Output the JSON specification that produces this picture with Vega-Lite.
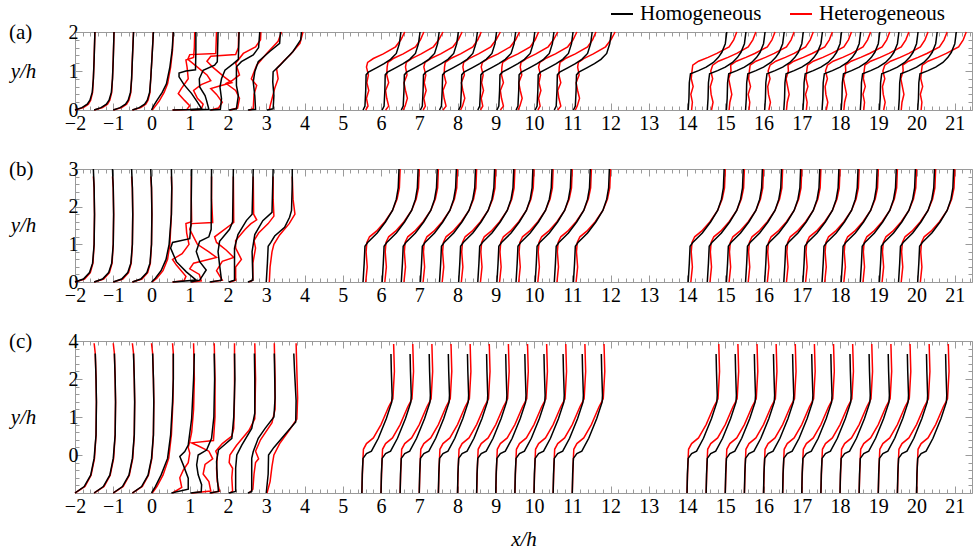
{
"$schema":"https://vega.github.io/schema/vega-lite/v6.json",
"padding":{"left":8,"top":2,"right":5,"bottom":5},
"background":"white",
"bounds":"flush",
"spacing":59,
"config":{
 "font":"Liberation Serif, Times New Roman, DejaVu Serif, serif",
 "view":{"stroke":"#9a9a9a","strokeWidth":1},
 "axis":{"domain":false,"grid":false,"labelFont":"Liberation Serif, Times New Roman, DejaVu Serif, serif","labelFontSize":20,"labelColor":"#000","tickColor":"#9a9a9a","labelOverlap":false,"labelFlush":false,"labelBound":false,"titleFont":"Liberation Serif, Times New Roman, DejaVu Serif, serif","titleFontSize":21,"titleFontStyle":"italic","titleFontWeight":"normal","titleColor":"#000"},
 "legend":{"orient":"none","legendX":535,"legendY":-30,"direction":"horizontal","symbolType":"stroke","symbolStrokeWidth":2,"symbolSize":484,"labelFont":"Liberation Serif, Times New Roman, DejaVu Serif, serif","labelFontSize":21,"labelColor":"#000","labelOffset":6,"columnPadding":24,"padding":0},
 "title":{"font":"Liberation Serif, Times New Roman, DejaVu Serif, serif","fontSize":21,"fontWeight":"normal","color":"#000"}
},
"datasets":{"d":[
{"p":"a","s":"Hom","k":-2,"x":[-2,-1.82,-1.68,-1.61,-1.55,-1.52,-1.5,-1.48],"y":[0,0.06,0.15,0.25,0.45,0.8,1.3,2]},
{"p":"a","s":"Hom","k":-1.5,"x":[-1.5,-1.32,-1.18,-1.11,-1.05,-1.02,-1,-0.98],"y":[0,0.06,0.15,0.25,0.45,0.8,1.3,2]},
{"p":"a","s":"Hom","k":-1,"x":[-1,-0.82,-0.68,-0.61,-0.55,-0.52,-0.5,-0.47],"y":[0,0.06,0.15,0.25,0.45,0.8,1.3,2]},
{"p":"a","s":"Hom","k":-0.5,"x":[-0.5,-0.32,-0.18,-0.11,-0.05,-0.02,0.01,0.05],"y":[0,0.06,0.15,0.25,0.45,0.8,1.3,2]},
{"p":"a","s":"Hom","k":0,"x":[0,0.05,0.13,0.28,0.39,0.48,0.54,0.57],"y":[0,0.1,0.23,0.45,0.67,1.1,1.54,2]},
{"p":"a","s":"Het","k":-2,"x":[-2,-1.78,-1.65,-1.59,-1.54,-1.52,-1.5,-1.48],"y":[0,0.06,0.15,0.25,0.45,0.8,1.3,2]},
{"p":"a","s":"Het","k":-1.5,"x":[-1.5,-1.28,-1.15,-1.09,-1.04,-1.02,-1,-0.98],"y":[0,0.06,0.15,0.25,0.45,0.8,1.3,2]},
{"p":"a","s":"Het","k":-1,"x":[-1,-0.78,-0.65,-0.59,-0.54,-0.52,-0.5,-0.47],"y":[0,0.06,0.15,0.25,0.45,0.8,1.3,2]},
{"p":"a","s":"Het","k":-0.5,"x":[-0.5,-0.28,-0.15,-0.09,-0.04,-0.02,0.01,0.05],"y":[0,0.06,0.15,0.25,0.45,0.8,1.3,2]},
{"p":"a","s":"Het","k":0,"x":[0.02,0.1,0.2,0.33,0.42,0.5,0.55,0.57],"y":[0,0.1,0.23,0.45,0.67,1.1,1.54,2]},
{"p":"a","s":"Hom","k":0.5,"x":[0.55,1.0,1.31,1.2,1.05,0.85,0.72,0.72,0.9,1.15,1.16,1.16],"y":[0,0.01,0.03,0.2,0.42,0.65,0.85,0.95,1.0,1.03,1.5,2]},
{"p":"a","s":"Het","k":0.5,"x":[0.55,0.92,1.0,0.87,0.7,0.78,0.96,0.93,0.9,1.1,1.12,1.13],"y":[0,0.01,0.11,0.24,0.42,0.55,0.8,1.1,1.28,1.35,1.6,2]},
{"p":"a","s":"Hom","k":1,"x":[1.02,1.5,1.44,1.4,1.26,1.25,1.35,1.65,1.72,1.74],"y":[0,0.02,0.24,0.37,0.59,0.8,1.02,1.15,1.24,2]},
{"p":"a","s":"Het","k":1,"x":[1.02,1.3,1.35,1.2,1.1,1.3,1.55,1.45,1.2,0.95,1.0,1.68,1.7],"y":[0,0.02,0.15,0.3,0.5,0.65,0.75,0.9,1.1,1.3,1.42,1.45,2]},
{"p":"a","s":"Hom","k":1.5,"x":[1.52,1.8,1.83,1.79,1.83,1.92,2.14,2.27,2.29],"y":[0,0.02,0.29,0.59,0.8,1.02,1.19,1.3,2]},
{"p":"a","s":"Het","k":1.5,"x":[1.55,1.75,1.85,1.7,1.55,1.8,2.1,1.9,1.6,1.45,1.55,2.2,2.27,2.28],"y":[0,0.05,0.2,0.4,0.55,0.62,0.7,0.85,1.1,1.25,1.38,1.42,1.6,2]},
{"p":"a","s":"Hom","k":2,"x":[2.02,2.22,2.27,2.22,2.22,2.35,2.66,2.8,2.83],"y":[0,0.03,0.37,0.63,1.11,1.24,1.41,1.6,2]},
{"p":"a","s":"Het","k":2,"x":[2.05,2.25,2.3,2.2,1.95,2.1,2.3,2.2,2.4,2.72,2.85,2.86],"y":[0,0.05,0.3,0.5,0.68,0.75,0.9,1.2,1.45,1.62,1.8,2]},
{"p":"a","s":"Hom","k":2.5,"x":[2.52,2.72,2.7,2.66,2.7,2.79,3.09,3.35,3.37],"y":[0,0.02,0.37,0.72,0.98,1.24,1.5,1.71,2]},
{"p":"a","s":"Het","k":2.5,"x":[2.55,2.66,2.68,2.75,2.61,2.75,3.01,3.31,3.4],"y":[0,0.03,0.4,0.63,0.8,1.15,1.45,1.76,2]},
{"p":"a","s":"Hom","k":3,"x":[3.02,3.18,3.2,3.17,3.18,3.36,3.7,3.9,3.92],"y":[0,0.03,0.37,0.72,0.98,1.15,1.5,1.8,2]},
{"p":"a","s":"Het","k":3,"x":[3.08,3.1,3.22,3.31,3.27,3.45,3.62,3.88,3.96],"y":[0,0.1,0.55,0.8,1.06,1.25,1.41,1.71,2]},
{"p":"a","s":"Hom","k":5.5,"x":[5.53,5.58,5.6,5.61,5.67,5.88,6.08,6.25,6.4,6.48,6.52],"y":[0,0.1,0.5,0.9,0.97,1.08,1.19,1.3,1.45,1.7,2]},
{"p":"a","s":"Hom","k":6,"x":[6.03,6.08,6.1,6.11,6.17,6.38,6.58,6.75,6.9,6.98,7.02],"y":[0,0.1,0.5,0.9,0.97,1.08,1.19,1.3,1.45,1.7,2]},
{"p":"a","s":"Hom","k":6.5,"x":[6.53,6.58,6.6,6.61,6.67,6.88,7.08,7.25,7.4,7.48,7.52],"y":[0,0.1,0.5,0.9,0.97,1.08,1.19,1.3,1.45,1.7,2]},
{"p":"a","s":"Hom","k":7,"x":[7.03,7.08,7.1,7.11,7.17,7.38,7.58,7.75,7.9,7.98,8.02],"y":[0,0.1,0.5,0.9,0.97,1.08,1.19,1.3,1.45,1.7,2]},
{"p":"a","s":"Hom","k":7.5,"x":[7.53,7.58,7.6,7.61,7.67,7.88,8.08,8.25,8.4,8.48,8.52],"y":[0,0.1,0.5,0.9,0.97,1.08,1.19,1.3,1.45,1.7,2]},
{"p":"a","s":"Hom","k":8,"x":[8.03,8.08,8.1,8.11,8.17,8.38,8.58,8.75,8.9,8.98,9.02],"y":[0,0.1,0.5,0.9,0.97,1.08,1.19,1.3,1.45,1.7,2]},
{"p":"a","s":"Hom","k":8.5,"x":[8.53,8.58,8.6,8.61,8.67,8.88,9.08,9.25,9.4,9.48,9.52],"y":[0,0.1,0.5,0.9,0.97,1.08,1.19,1.3,1.45,1.7,2]},
{"p":"a","s":"Hom","k":9,"x":[9.03,9.08,9.1,9.11,9.17,9.38,9.58,9.75,9.9,9.98,10.02],"y":[0,0.1,0.5,0.9,0.97,1.08,1.19,1.3,1.45,1.7,2]},
{"p":"a","s":"Hom","k":9.5,"x":[9.53,9.58,9.6,9.61,9.67,9.88,10.08,10.25,10.4,10.48,10.52],"y":[0,0.1,0.5,0.9,0.97,1.08,1.19,1.3,1.45,1.7,2]},
{"p":"a","s":"Hom","k":10,"x":[10.03,10.08,10.1,10.11,10.17,10.38,10.58,10.75,10.9,10.98,11.02],"y":[0,0.1,0.5,0.9,0.97,1.08,1.19,1.3,1.45,1.7,2]},
{"p":"a","s":"Hom","k":10.5,"x":[10.53,10.58,10.6,10.61,10.67,10.88,11.08,11.25,11.4,11.48,11.52],"y":[0,0.1,0.5,0.9,0.97,1.08,1.19,1.3,1.45,1.7,2]},
{"p":"a","s":"Hom","k":11,"x":[11.03,11.08,11.1,11.11,11.17,11.38,11.58,11.75,11.9,11.98,12.02],"y":[0,0.1,0.5,0.9,0.97,1.08,1.19,1.3,1.45,1.7,2]},
{"p":"a","s":"Het","k":5.5,"x":[5.6,5.66,5.62,5.68,5.63,5.67,5.62,5.65,5.8,6.06,6.38,6.52,6.62],"y":[0,0.1,0.3,0.5,0.7,0.9,1.1,1.22,1.32,1.44,1.62,1.8,2]},
{"p":"a","s":"Het","k":6,"x":[6.12,6.2,6.15,6.12,6.2,6.15,6.16,6.18,6.32,6.58,6.9,7.03,7.12],"y":[0,0.1,0.3,0.5,0.7,0.9,1.1,1.22,1.32,1.44,1.62,1.8,2]},
{"p":"a","s":"Het","k":6.5,"x":[6.58,6.63,6.69,6.64,6.6,6.68,6.64,6.66,6.8,7.05,7.37,7.51,7.62],"y":[0,0.1,0.3,0.5,0.7,0.9,1.1,1.22,1.32,1.44,1.62,1.8,2]},
{"p":"a","s":"Het","k":7,"x":[7.1,7.16,7.12,7.18,7.13,7.17,7.12,7.15,7.3,7.56,7.88,8.02,8.12],"y":[0,0.1,0.3,0.5,0.7,0.9,1.1,1.22,1.32,1.44,1.62,1.8,2]},
{"p":"a","s":"Het","k":7.5,"x":[7.62,7.7,7.65,7.62,7.7,7.65,7.66,7.68,7.82,8.08,8.4,8.53,8.62],"y":[0,0.1,0.3,0.5,0.7,0.9,1.1,1.22,1.32,1.44,1.62,1.8,2]},
{"p":"a","s":"Het","k":8,"x":[8.08,8.13,8.19,8.14,8.1,8.18,8.14,8.16,8.3,8.55,8.87,9.01,9.12],"y":[0,0.1,0.3,0.5,0.7,0.9,1.1,1.22,1.32,1.44,1.62,1.8,2]},
{"p":"a","s":"Het","k":8.5,"x":[8.6,8.66,8.62,8.68,8.63,8.67,8.62,8.65,8.8,9.06,9.38,9.52,9.62],"y":[0,0.1,0.3,0.5,0.7,0.9,1.1,1.22,1.32,1.44,1.62,1.8,2]},
{"p":"a","s":"Het","k":9,"x":[9.12,9.2,9.15,9.12,9.2,9.15,9.16,9.18,9.32,9.58,9.9,10.03,10.12],"y":[0,0.1,0.3,0.5,0.7,0.9,1.1,1.22,1.32,1.44,1.62,1.8,2]},
{"p":"a","s":"Het","k":9.5,"x":[9.58,9.63,9.69,9.64,9.6,9.68,9.64,9.66,9.8,10.05,10.37,10.51,10.62],"y":[0,0.1,0.3,0.5,0.7,0.9,1.1,1.22,1.32,1.44,1.62,1.8,2]},
{"p":"a","s":"Het","k":10,"x":[10.1,10.16,10.12,10.18,10.13,10.17,10.12,10.15,10.3,10.56,10.88,11.02,11.12],"y":[0,0.1,0.3,0.5,0.7,0.9,1.1,1.22,1.32,1.44,1.62,1.8,2]},
{"p":"a","s":"Het","k":10.5,"x":[10.62,10.7,10.65,10.62,10.7,10.65,10.66,10.68,10.82,11.08,11.4,11.53,11.62],"y":[0,0.1,0.3,0.5,0.7,0.9,1.1,1.22,1.32,1.44,1.62,1.8,2]},
{"p":"a","s":"Het","k":11,"x":[11.08,11.13,11.19,11.14,11.1,11.18,11.14,11.16,11.3,11.55,11.87,12.01,12.12],"y":[0,0.1,0.3,0.5,0.7,0.9,1.1,1.22,1.32,1.44,1.62,1.8,2]},
{"p":"a","s":"Hom","k":14,"x":[14.03,14.05,14.06,14.09,14.3,14.5,14.69,14.82,14.91,15,15.04],"y":[0,0.3,0.7,0.93,1.01,1.1,1.22,1.35,1.48,1.7,2]},
{"p":"a","s":"Hom","k":14.5,"x":[14.53,14.55,14.56,14.59,14.8,15,15.19,15.32,15.41,15.5,15.54],"y":[0,0.3,0.7,0.93,1.01,1.1,1.22,1.35,1.48,1.7,2]},
{"p":"a","s":"Hom","k":15,"x":[15.03,15.05,15.06,15.09,15.3,15.5,15.69,15.82,15.91,16,16.04],"y":[0,0.3,0.7,0.93,1.01,1.1,1.22,1.35,1.48,1.7,2]},
{"p":"a","s":"Hom","k":15.5,"x":[15.53,15.55,15.56,15.59,15.8,16,16.19,16.32,16.41,16.5,16.54],"y":[0,0.3,0.7,0.93,1.01,1.1,1.22,1.35,1.48,1.7,2]},
{"p":"a","s":"Hom","k":16,"x":[16.03,16.05,16.06,16.09,16.3,16.5,16.69,16.82,16.91,17,17.04],"y":[0,0.3,0.7,0.93,1.01,1.1,1.22,1.35,1.48,1.7,2]},
{"p":"a","s":"Hom","k":16.5,"x":[16.53,16.55,16.56,16.59,16.8,17,17.19,17.32,17.41,17.5,17.54],"y":[0,0.3,0.7,0.93,1.01,1.1,1.22,1.35,1.48,1.7,2]},
{"p":"a","s":"Hom","k":17,"x":[17.03,17.05,17.06,17.09,17.3,17.5,17.69,17.82,17.91,18,18.04],"y":[0,0.3,0.7,0.93,1.01,1.1,1.22,1.35,1.48,1.7,2]},
{"p":"a","s":"Hom","k":17.5,"x":[17.53,17.55,17.56,17.59,17.8,18,18.19,18.32,18.41,18.5,18.54],"y":[0,0.3,0.7,0.93,1.01,1.1,1.22,1.35,1.48,1.7,2]},
{"p":"a","s":"Hom","k":18,"x":[18.03,18.05,18.06,18.09,18.3,18.5,18.69,18.82,18.91,19,19.04],"y":[0,0.3,0.7,0.93,1.01,1.1,1.22,1.35,1.48,1.7,2]},
{"p":"a","s":"Hom","k":18.5,"x":[18.53,18.55,18.56,18.59,18.8,19,19.19,19.32,19.41,19.5,19.54],"y":[0,0.3,0.7,0.93,1.01,1.1,1.22,1.35,1.48,1.7,2]},
{"p":"a","s":"Hom","k":19,"x":[19.03,19.05,19.06,19.09,19.3,19.5,19.69,19.82,19.91,20,20.04],"y":[0,0.3,0.7,0.93,1.01,1.1,1.22,1.35,1.48,1.7,2]},
{"p":"a","s":"Hom","k":19.5,"x":[19.53,19.55,19.56,19.59,19.8,20,20.19,20.32,20.41,20.5,20.54],"y":[0,0.3,0.7,0.93,1.01,1.1,1.22,1.35,1.48,1.7,2]},
{"p":"a","s":"Hom","k":20,"x":[20.03,20.05,20.06,20.09,20.3,20.5,20.69,20.82,20.91,21,21.04],"y":[0,0.3,0.7,0.93,1.01,1.1,1.22,1.35,1.48,1.7,2]},
{"p":"a","s":"Het","k":14,"x":[14.12,14.14,14.1,14.16,14.11,14.13,14.15,14.3,14.55,14.78,15.1,15.22,15.3],"y":[0,0.2,0.4,0.6,0.8,1,1.15,1.25,1.35,1.45,1.62,1.8,2]},
{"p":"a","s":"Het","k":14.5,"x":[14.64,14.68,14.63,14.61,14.67,14.62,14.67,14.82,15.07,15.3,15.6,15.72,15.8],"y":[0,0.2,0.4,0.6,0.8,1,1.15,1.25,1.35,1.45,1.62,1.8,2]},
{"p":"a","s":"Het","k":15,"x":[15.1,15.12,15.17,15.13,15.09,15.15,15.14,15.29,15.54,15.77,16.1,16.22,16.3],"y":[0,0.2,0.4,0.6,0.8,1,1.15,1.25,1.35,1.45,1.62,1.8,2]},
{"p":"a","s":"Het","k":15.5,"x":[15.62,15.64,15.6,15.66,15.61,15.63,15.65,15.8,16.05,16.28,16.6,16.72,16.8],"y":[0,0.2,0.4,0.6,0.8,1,1.15,1.25,1.35,1.45,1.62,1.8,2]},
{"p":"a","s":"Het","k":16,"x":[16.14,16.18,16.13,16.11,16.17,16.12,16.17,16.32,16.57,16.8,17.1,17.22,17.3],"y":[0,0.2,0.4,0.6,0.8,1,1.15,1.25,1.35,1.45,1.62,1.8,2]},
{"p":"a","s":"Het","k":16.5,"x":[16.6,16.62,16.67,16.63,16.59,16.65,16.64,16.79,17.04,17.27,17.6,17.72,17.8],"y":[0,0.2,0.4,0.6,0.8,1,1.15,1.25,1.35,1.45,1.62,1.8,2]},
{"p":"a","s":"Het","k":17,"x":[17.12,17.14,17.1,17.16,17.11,17.13,17.15,17.3,17.55,17.78,18.1,18.22,18.3],"y":[0,0.2,0.4,0.6,0.8,1,1.15,1.25,1.35,1.45,1.62,1.8,2]},
{"p":"a","s":"Het","k":17.5,"x":[17.64,17.68,17.63,17.61,17.67,17.62,17.67,17.82,18.07,18.3,18.6,18.72,18.8],"y":[0,0.2,0.4,0.6,0.8,1,1.15,1.25,1.35,1.45,1.62,1.8,2]},
{"p":"a","s":"Het","k":18,"x":[18.1,18.12,18.17,18.13,18.09,18.15,18.14,18.29,18.54,18.77,19.1,19.22,19.3],"y":[0,0.2,0.4,0.6,0.8,1,1.15,1.25,1.35,1.45,1.62,1.8,2]},
{"p":"a","s":"Het","k":18.5,"x":[18.62,18.64,18.6,18.66,18.61,18.63,18.65,18.8,19.05,19.28,19.6,19.72,19.8],"y":[0,0.2,0.4,0.6,0.8,1,1.15,1.25,1.35,1.45,1.62,1.8,2]},
{"p":"a","s":"Het","k":19,"x":[19.14,19.18,19.13,19.11,19.17,19.12,19.17,19.32,19.57,19.8,20.1,20.22,20.3],"y":[0,0.2,0.4,0.6,0.8,1,1.15,1.25,1.35,1.45,1.62,1.8,2]},
{"p":"a","s":"Het","k":19.5,"x":[19.6,19.62,19.67,19.63,19.59,19.65,19.64,19.79,20.04,20.27,20.6,20.72,20.8],"y":[0,0.2,0.4,0.6,0.8,1,1.15,1.25,1.35,1.45,1.62,1.8,2]},
{"p":"a","s":"Het","k":20,"x":[20.12,20.14,20.1,20.16,20.11,20.13,20.15,20.3,20.55,20.78,21.1,21.22,21.3],"y":[0,0.2,0.4,0.6,0.8,1,1.15,1.25,1.35,1.45,1.62,1.8,2]},

{"p":"b","s":"Hom","k":-2,"x":[-2,-1.78,-1.62,-1.54,-1.5,-1.49,-1.5,-1.52],"y":[0,0.08,0.25,0.5,1,1.8,2.5,3]},
{"p":"b","s":"Hom","k":-1.5,"x":[-1.5,-1.28,-1.12,-1.04,-1,-0.99,-1,-1.02],"y":[0,0.08,0.25,0.5,1,1.8,2.5,3]},
{"p":"b","s":"Hom","k":-1,"x":[-1,-0.78,-0.62,-0.54,-0.5,-0.49,-0.5,-0.52],"y":[0,0.08,0.25,0.5,1,1.8,2.5,3]},
{"p":"b","s":"Hom","k":-0.5,"x":[-0.5,-0.28,-0.12,-0.04,0,0.01,0,-0.02],"y":[0,0.08,0.25,0.5,1,1.8,2.5,3]},
{"p":"b","s":"Hom","k":0,"x":[0,0.1,0.25,0.38,0.46,0.52,0.53,0.52],"y":[0,0.1,0.3,0.6,1,1.8,2.5,3]},
{"p":"b","s":"Het","k":-2,"x":[-2,-1.75,-1.6,-1.53,-1.5,-1.49,-1.5,-1.52],"y":[0,0.08,0.25,0.5,1,1.8,2.5,2.8]},
{"p":"b","s":"Het","k":-1.5,"x":[-1.5,-1.25,-1.1,-1.03,-1,-0.99,-1,-1.02],"y":[0,0.08,0.25,0.5,1,1.8,2.5,2.8]},
{"p":"b","s":"Het","k":-1,"x":[-1,-0.75,-0.6,-0.53,-0.5,-0.49,-0.5,-0.52],"y":[0,0.08,0.25,0.5,1,1.8,2.5,2.8]},
{"p":"b","s":"Het","k":-0.5,"x":[-0.5,-0.25,-0.1,-0.03,0,0.01,0,-0.02],"y":[0,0.08,0.25,0.5,1,1.8,2.5,2.8]},
{"p":"b","s":"Het","k":0,"x":[0.02,0.14,0.3,0.42,0.48,0.52,0.53,0.52],"y":[0,0.1,0.3,0.6,1,1.8,2.5,2.8]},
{"p":"b","s":"Hom","k":0.5,"x":[0.55,1.17,0.91,0.65,0.5,0.55,1.0,1.03,1.05],"y":[0,0.05,0.27,0.54,0.9,1.05,1.15,1.5,3]},
{"p":"b","s":"Het","k":0.5,"x":[0.55,0.85,0.9,0.65,0.55,0.8,0.98,0.92,0.9,1.05,1.04,1.04],"y":[0,0.03,0.15,0.45,0.6,0.75,1.0,1.3,1.55,1.6,2.2,2.8]},
{"p":"b","s":"Hom","k":1,"x":[1.02,1.26,1.43,1.26,1.17,1.26,1.5,1.56,1.57],"y":[0,0.05,0.32,0.54,0.81,1.08,1.2,1.4,3]},
{"p":"b","s":"Het","k":1,"x":[1.05,1.3,1.25,1.0,1.1,1.7,1.5,1.2,1.1,1.0,1.05,1.6,1.57,1.57],"y":[0,0.03,0.2,0.35,0.5,0.65,0.8,1.0,1.2,1.4,1.55,1.58,2.2,2.8]},
{"p":"b","s":"Hom","k":1.5,"x":[1.52,1.83,1.78,1.74,1.78,2.04,2.12,2.14],"y":[0,0.05,0.45,0.81,1.08,1.4,1.6,3]},
{"p":"b","s":"Het","k":1.5,"x":[1.55,1.85,1.7,1.85,2.15,1.95,1.7,1.65,1.85,2.15,2.14],"y":[0,0.05,0.3,0.55,0.65,0.85,1.05,1.2,1.35,1.58,2.8]},
{"p":"b","s":"Hom","k":2,"x":[2.02,2.17,2.17,2.17,2.26,2.48,2.63,2.66],"y":[0,0.05,0.5,0.9,1.26,1.63,1.8,3]},
{"p":"b","s":"Het","k":2,"x":[2.05,2.2,2.2,2.35,2.2,2.2,2.45,2.6,2.75,2.67,2.66],"y":[0,0.05,0.4,0.6,0.9,1.1,1.4,1.55,1.65,1.8,2.8]},
{"p":"b","s":"Hom","k":2.5,"x":[2.52,2.65,2.63,2.7,2.91,3.15,3.18],"y":[0,0.05,0.81,1.26,1.63,1.85,3]},
{"p":"b","s":"Het","k":2.5,"x":[2.55,2.65,2.65,2.72,2.68,2.8,3.05,3.2,3.18,3.18],"y":[0,0.05,0.5,0.9,1.1,1.3,1.55,1.75,2.2,2.8]},
{"p":"b","s":"Hom","k":3,"x":[3,3.03,3.05,3.12,3.22,3.48,3.61,3.66,3.68,3.68],"y":[0,0.5,0.95,1.05,1.22,1.45,1.72,1.9,2.6,3]},
{"p":"b","s":"Het","k":3,"x":[3.08,3.1,3.15,3.2,3.35,3.6,3.75,3.7,3.68],"y":[0,0.4,0.8,1.0,1.25,1.55,1.8,2.2,2.8]},
{"p":"b","s":"Hom","k":5.5,"x":[5.53,5.56,5.58,5.65,5.9,6.12,6.3,6.4,6.45,6.47],"y":[0,0.5,0.95,1.05,1.3,1.6,1.9,2.2,2.5,3]},
{"p":"b","s":"Hom","k":6,"x":[6.03,6.06,6.08,6.15,6.4,6.62,6.8,6.9,6.95,6.97],"y":[0,0.5,0.95,1.05,1.3,1.6,1.9,2.2,2.5,3]},
{"p":"b","s":"Hom","k":6.5,"x":[6.53,6.56,6.58,6.65,6.9,7.12,7.3,7.4,7.45,7.47],"y":[0,0.5,0.95,1.05,1.3,1.6,1.9,2.2,2.5,3]},
{"p":"b","s":"Hom","k":7,"x":[7.03,7.06,7.08,7.15,7.4,7.62,7.8,7.9,7.95,7.97],"y":[0,0.5,0.95,1.05,1.3,1.6,1.9,2.2,2.5,3]},
{"p":"b","s":"Hom","k":7.5,"x":[7.53,7.56,7.58,7.65,7.9,8.12,8.3,8.4,8.45,8.47],"y":[0,0.5,0.95,1.05,1.3,1.6,1.9,2.2,2.5,3]},
{"p":"b","s":"Hom","k":8,"x":[8.03,8.06,8.08,8.15,8.4,8.62,8.8,8.9,8.95,8.97],"y":[0,0.5,0.95,1.05,1.3,1.6,1.9,2.2,2.5,3]},
{"p":"b","s":"Hom","k":8.5,"x":[8.53,8.56,8.58,8.65,8.9,9.12,9.3,9.4,9.45,9.47],"y":[0,0.5,0.95,1.05,1.3,1.6,1.9,2.2,2.5,3]},
{"p":"b","s":"Hom","k":9,"x":[9.03,9.06,9.08,9.15,9.4,9.62,9.8,9.9,9.95,9.97],"y":[0,0.5,0.95,1.05,1.3,1.6,1.9,2.2,2.5,3]},
{"p":"b","s":"Hom","k":9.5,"x":[9.53,9.56,9.58,9.65,9.9,10.12,10.3,10.4,10.45,10.47],"y":[0,0.5,0.95,1.05,1.3,1.6,1.9,2.2,2.5,3]},
{"p":"b","s":"Hom","k":10,"x":[10.03,10.06,10.08,10.15,10.4,10.62,10.8,10.9,10.95,10.97],"y":[0,0.5,0.95,1.05,1.3,1.6,1.9,2.2,2.5,3]},
{"p":"b","s":"Hom","k":10.5,"x":[10.53,10.56,10.58,10.65,10.9,11.12,11.3,11.4,11.45,11.47],"y":[0,0.5,0.95,1.05,1.3,1.6,1.9,2.2,2.5,3]},
{"p":"b","s":"Hom","k":11,"x":[11.03,11.06,11.08,11.15,11.4,11.62,11.8,11.9,11.95,11.97],"y":[0,0.5,0.95,1.05,1.3,1.6,1.9,2.2,2.5,3]},
{"p":"b","s":"Het","k":5.5,"x":[5.6,5.64,5.61,5.63,5.7,5.88,6.1,6.3,6.42,6.48,6.5],"y":[0,0.4,0.8,1.05,1.2,1.35,1.6,1.9,2.2,2.5,3]},
{"p":"b","s":"Het","k":6,"x":[6.1,6.14,6.11,6.13,6.2,6.38,6.6,6.8,6.92,6.98,7],"y":[0,0.4,0.8,1.05,1.2,1.35,1.6,1.9,2.2,2.5,3]},
{"p":"b","s":"Het","k":6.5,"x":[6.6,6.64,6.61,6.63,6.7,6.88,7.1,7.3,7.42,7.48,7.5],"y":[0,0.4,0.8,1.05,1.2,1.35,1.6,1.9,2.2,2.5,3]},
{"p":"b","s":"Het","k":7,"x":[7.1,7.14,7.11,7.13,7.2,7.38,7.6,7.8,7.92,7.98,8],"y":[0,0.4,0.8,1.05,1.2,1.35,1.6,1.9,2.2,2.5,3]},
{"p":"b","s":"Het","k":7.5,"x":[7.6,7.64,7.61,7.63,7.7,7.88,8.1,8.3,8.42,8.48,8.5],"y":[0,0.4,0.8,1.05,1.2,1.35,1.6,1.9,2.2,2.5,3]},
{"p":"b","s":"Het","k":8,"x":[8.1,8.14,8.11,8.13,8.2,8.38,8.6,8.8,8.92,8.98,9],"y":[0,0.4,0.8,1.05,1.2,1.35,1.6,1.9,2.2,2.5,3]},
{"p":"b","s":"Het","k":8.5,"x":[8.6,8.64,8.61,8.63,8.7,8.88,9.1,9.3,9.42,9.48,9.5],"y":[0,0.4,0.8,1.05,1.2,1.35,1.6,1.9,2.2,2.5,3]},
{"p":"b","s":"Het","k":9,"x":[9.1,9.14,9.11,9.13,9.2,9.38,9.6,9.8,9.92,9.98,10],"y":[0,0.4,0.8,1.05,1.2,1.35,1.6,1.9,2.2,2.5,3]},
{"p":"b","s":"Het","k":9.5,"x":[9.6,9.64,9.61,9.63,9.7,9.88,10.1,10.3,10.42,10.48,10.5],"y":[0,0.4,0.8,1.05,1.2,1.35,1.6,1.9,2.2,2.5,3]},
{"p":"b","s":"Het","k":10,"x":[10.1,10.14,10.11,10.13,10.2,10.38,10.6,10.8,10.92,10.98,11],"y":[0,0.4,0.8,1.05,1.2,1.35,1.6,1.9,2.2,2.5,3]},
{"p":"b","s":"Het","k":10.5,"x":[10.6,10.64,10.61,10.63,10.7,10.88,11.1,11.3,11.42,11.48,11.5],"y":[0,0.4,0.8,1.05,1.2,1.35,1.6,1.9,2.2,2.5,3]},
{"p":"b","s":"Het","k":11,"x":[11.1,11.14,11.11,11.13,11.2,11.38,11.6,11.8,11.92,11.98,12],"y":[0,0.4,0.8,1.05,1.2,1.35,1.6,1.9,2.2,2.5,3]},
{"p":"b","s":"Hom","k":14,"x":[14.03,14.06,14.08,14.15,14.4,14.62,14.8,14.9,14.95,14.97],"y":[0,0.5,0.95,1.05,1.3,1.6,1.9,2.2,2.5,3]},
{"p":"b","s":"Hom","k":14.5,"x":[14.53,14.56,14.58,14.65,14.9,15.12,15.3,15.4,15.45,15.47],"y":[0,0.5,0.95,1.05,1.3,1.6,1.9,2.2,2.5,3]},
{"p":"b","s":"Hom","k":15,"x":[15.03,15.06,15.08,15.15,15.4,15.62,15.8,15.9,15.95,15.97],"y":[0,0.5,0.95,1.05,1.3,1.6,1.9,2.2,2.5,3]},
{"p":"b","s":"Hom","k":15.5,"x":[15.53,15.56,15.58,15.65,15.9,16.12,16.3,16.4,16.45,16.47],"y":[0,0.5,0.95,1.05,1.3,1.6,1.9,2.2,2.5,3]},
{"p":"b","s":"Hom","k":16,"x":[16.03,16.06,16.08,16.15,16.4,16.62,16.8,16.9,16.95,16.97],"y":[0,0.5,0.95,1.05,1.3,1.6,1.9,2.2,2.5,3]},
{"p":"b","s":"Hom","k":16.5,"x":[16.53,16.56,16.58,16.65,16.9,17.12,17.3,17.4,17.45,17.47],"y":[0,0.5,0.95,1.05,1.3,1.6,1.9,2.2,2.5,3]},
{"p":"b","s":"Hom","k":17,"x":[17.03,17.06,17.08,17.15,17.4,17.62,17.8,17.9,17.95,17.97],"y":[0,0.5,0.95,1.05,1.3,1.6,1.9,2.2,2.5,3]},
{"p":"b","s":"Hom","k":17.5,"x":[17.53,17.56,17.58,17.65,17.9,18.12,18.3,18.4,18.45,18.47],"y":[0,0.5,0.95,1.05,1.3,1.6,1.9,2.2,2.5,3]},
{"p":"b","s":"Hom","k":18,"x":[18.03,18.06,18.08,18.15,18.4,18.62,18.8,18.9,18.95,18.97],"y":[0,0.5,0.95,1.05,1.3,1.6,1.9,2.2,2.5,3]},
{"p":"b","s":"Hom","k":18.5,"x":[18.53,18.56,18.58,18.65,18.9,19.12,19.3,19.4,19.45,19.47],"y":[0,0.5,0.95,1.05,1.3,1.6,1.9,2.2,2.5,3]},
{"p":"b","s":"Hom","k":19,"x":[19.03,19.06,19.08,19.15,19.4,19.62,19.8,19.9,19.95,19.97],"y":[0,0.5,0.95,1.05,1.3,1.6,1.9,2.2,2.5,3]},
{"p":"b","s":"Hom","k":19.5,"x":[19.53,19.56,19.58,19.65,19.9,20.12,20.3,20.4,20.45,20.47],"y":[0,0.5,0.95,1.05,1.3,1.6,1.9,2.2,2.5,3]},
{"p":"b","s":"Hom","k":20,"x":[20.03,20.06,20.08,20.15,20.4,20.62,20.8,20.9,20.95,20.97],"y":[0,0.5,0.95,1.05,1.3,1.6,1.9,2.2,2.5,3]},
{"p":"b","s":"Het","k":14,"x":[14.1,14.14,14.11,14.13,14.2,14.38,14.6,14.8,14.92,14.98,15],"y":[0,0.4,0.8,1.05,1.2,1.35,1.6,1.9,2.2,2.5,3]},
{"p":"b","s":"Het","k":14.5,"x":[14.6,14.64,14.61,14.63,14.7,14.88,15.1,15.3,15.42,15.48,15.5],"y":[0,0.4,0.8,1.05,1.2,1.35,1.6,1.9,2.2,2.5,3]},
{"p":"b","s":"Het","k":15,"x":[15.1,15.14,15.11,15.13,15.2,15.38,15.6,15.8,15.92,15.98,16],"y":[0,0.4,0.8,1.05,1.2,1.35,1.6,1.9,2.2,2.5,3]},
{"p":"b","s":"Het","k":15.5,"x":[15.6,15.64,15.61,15.63,15.7,15.88,16.1,16.3,16.42,16.48,16.5],"y":[0,0.4,0.8,1.05,1.2,1.35,1.6,1.9,2.2,2.5,3]},
{"p":"b","s":"Het","k":16,"x":[16.1,16.14,16.11,16.13,16.2,16.38,16.6,16.8,16.92,16.98,17],"y":[0,0.4,0.8,1.05,1.2,1.35,1.6,1.9,2.2,2.5,3]},
{"p":"b","s":"Het","k":16.5,"x":[16.6,16.64,16.61,16.63,16.7,16.88,17.1,17.3,17.42,17.48,17.5],"y":[0,0.4,0.8,1.05,1.2,1.35,1.6,1.9,2.2,2.5,3]},
{"p":"b","s":"Het","k":17,"x":[17.1,17.14,17.11,17.13,17.2,17.38,17.6,17.8,17.92,17.98,18],"y":[0,0.4,0.8,1.05,1.2,1.35,1.6,1.9,2.2,2.5,3]},
{"p":"b","s":"Het","k":17.5,"x":[17.6,17.64,17.61,17.63,17.7,17.88,18.1,18.3,18.42,18.48,18.5],"y":[0,0.4,0.8,1.05,1.2,1.35,1.6,1.9,2.2,2.5,3]},
{"p":"b","s":"Het","k":18,"x":[18.1,18.14,18.11,18.13,18.2,18.38,18.6,18.8,18.92,18.98,19],"y":[0,0.4,0.8,1.05,1.2,1.35,1.6,1.9,2.2,2.5,3]},
{"p":"b","s":"Het","k":18.5,"x":[18.6,18.64,18.61,18.63,18.7,18.88,19.1,19.3,19.42,19.48,19.5],"y":[0,0.4,0.8,1.05,1.2,1.35,1.6,1.9,2.2,2.5,3]},
{"p":"b","s":"Het","k":19,"x":[19.1,19.14,19.11,19.13,19.2,19.38,19.6,19.8,19.92,19.98,20],"y":[0,0.4,0.8,1.05,1.2,1.35,1.6,1.9,2.2,2.5,3]},
{"p":"b","s":"Het","k":19.5,"x":[19.6,19.64,19.61,19.63,19.7,19.88,20.1,20.3,20.42,20.48,20.5],"y":[0,0.4,0.8,1.05,1.2,1.35,1.6,1.9,2.2,2.5,3]},
{"p":"b","s":"Het","k":20,"x":[20.1,20.14,20.11,20.13,20.2,20.38,20.6,20.8,20.92,20.98,21],"y":[0,0.4,0.8,1.05,1.2,1.35,1.6,1.9,2.2,2.5,3]},

{"p":"c","s":"Hom","k":-2,"x":[-2,-1.76,-1.59,-1.5,-1.45,-1.44,-1.45,-1.47],"y":[-1,-0.83,-0.53,-0.09,0.53,1.4,2,2.67]},
{"p":"c","s":"Hom","k":-1.5,"x":[-1.5,-1.26,-1.09,-1,-0.95,-0.94,-0.95,-0.97],"y":[-1,-0.83,-0.53,-0.09,0.53,1.4,2,2.67]},
{"p":"c","s":"Hom","k":-1,"x":[-1,-0.76,-0.59,-0.5,-0.45,-0.44,-0.45,-0.47],"y":[-1,-0.83,-0.53,-0.09,0.53,1.4,2,2.67]},
{"p":"c","s":"Hom","k":-0.5,"x":[-0.5,-0.26,-0.09,0,0.05,0.06,0.05,0.03],"y":[-1,-0.83,-0.53,-0.09,0.53,1.4,2,2.67]},
{"p":"c","s":"Hom","k":0,"x":[0,0.1,0.25,0.42,0.5,0.55,0.57,0.57],"y":[-1,-0.83,-0.53,-0.09,0.53,1.4,2,2.67]},
{"p":"c","s":"Het","k":-2,"x":[-2,-1.74,-1.58,-1.49,-1.45,-1.44,-1.45,-1.47,-1.5],"y":[-1,-0.83,-0.53,-0.09,0.53,1.4,2,2.67,2.94]},
{"p":"c","s":"Het","k":-1.5,"x":[-1.5,-1.24,-1.08,-0.99,-0.95,-0.94,-0.95,-0.97,-1],"y":[-1,-0.83,-0.53,-0.09,0.53,1.4,2,2.67,2.94]},
{"p":"c","s":"Het","k":-1,"x":[-1,-0.74,-0.58,-0.49,-0.45,-0.44,-0.45,-0.47,-0.5],"y":[-1,-0.83,-0.53,-0.09,0.53,1.4,2,2.67,2.94]},
{"p":"c","s":"Het","k":-0.5,"x":[-0.5,-0.24,-0.08,0.01,0.05,0.06,0.05,0.03,0],"y":[-1,-0.83,-0.53,-0.09,0.53,1.4,2,2.67,2.94]},
{"p":"c","s":"Het","k":0,"x":[0.02,0.14,0.3,0.45,0.52,0.56,0.57,0.57,0.55],"y":[-1,-0.83,-0.53,-0.09,0.53,1.4,2,2.67,2.94]},
{"p":"c","s":"Hom","k":0.5,"x":[0.52,0.96,0.96,0.83,0.74,0.87,0.96,1.05,1.1,1.12],"y":[-1,-0.9,-0.61,-0.26,-0.04,0.09,0.26,0.96,2,2.67]},
{"p":"c","s":"Het","k":0.5,"x":[0.55,0.79,0.74,0.83,0.96,1.0,0.96,1.0,1.05,1.1,1.12,1.1],"y":[-1,-0.85,-0.6,-0.4,-0.2,0.05,0.2,0.35,0.6,1.2,2,2.94]},
{"p":"c","s":"Hom","k":1,"x":[1.02,1.3,1.31,1.22,1.18,1.22,1.44,1.57,1.63,1.65,1.64],"y":[-1,-0.97,-0.78,-0.52,-0.26,0,0.13,0.44,1,2,2.67]},
{"p":"c","s":"Het","k":1,"x":[1.05,1.55,1.5,1.35,1.4,1.6,1.5,1.2,1.05,1.62,1.66,1.66,1.64],"y":[-1,-0.95,-0.7,-0.5,-0.25,-0.1,0.1,0.25,0.32,0.38,1,2,2.94]},
{"p":"c","s":"Hom","k":1.5,"x":[1.52,1.75,1.72,1.7,1.75,2.1,2.15,2.18,2.17],"y":[-1,-0.96,-0.6,-0.17,0.13,0.44,1,2,2.67]},
{"p":"c","s":"Het","k":1.5,"x":[1.55,1.78,1.72,1.7,1.72,1.68,1.85,2.1,2.15,2.17,2.17],"y":[-1,-0.95,-0.7,-0.35,0,0.1,0.3,0.5,0.7,1.5,2.94]},
{"p":"c","s":"Hom","k":2,"x":[2.02,2.2,2.2,2.23,2.36,2.62,2.7,2.7,2.69],"y":[-1,-0.96,-0.35,0,0.26,0.7,1.1,2,2.67]},
{"p":"c","s":"Het","k":2,"x":[2.05,2.12,2.1,2.12,2.03,2.05,2.22,2.55,2.7,2.72,2.7],"y":[-1,-0.95,-0.6,-0.35,-0.2,0,0.25,0.65,0.95,2,2.94]},
{"p":"c","s":"Hom","k":2.5,"x":[2.52,2.62,2.62,2.66,2.79,2.97,3.2,3.23,3.21],"y":[-1,-0.96,-0.09,0.09,0.44,0.7,1,1.5,2.67]},
{"p":"c","s":"Het","k":2.5,"x":[2.55,2.65,2.68,2.72,2.8,2.72,2.85,3.15,3.23,3.23,3.21],"y":[-1,-0.9,-0.5,-0.2,-0.1,0.1,0.4,0.85,1.2,2,2.94]},
{"p":"c","s":"Hom","k":3,"x":[3,3.05,3.06,3.2,3.5,3.77,3.78,3.74,3.72],"y":[-1,-0.5,0,0.2,0.55,0.87,1.43,2.2,2.67]},
{"p":"c","s":"Het","k":3,"x":[3.02,3.1,3.15,3.2,3.35,3.6,3.8,3.82,3.78],"y":[-1,-0.7,-0.3,0,0.3,0.65,0.95,1.5,2.94]},
{"p":"c","s":"Hom","k":5.5,"x":[5.5,5.51,5.53,5.62,5.75,5.93,6.14,6.28,6.29,6.27,6.26],"y":[-1,-0.5,-0.09,0.04,0.1,0.44,0.96,1.39,1.57,2.2,2.66]},
{"p":"c","s":"Hom","k":6,"x":[6,6.01,6.03,6.12,6.25,6.43,6.64,6.78,6.79,6.77,6.76],"y":[-1,-0.5,-0.09,0.04,0.1,0.44,0.96,1.39,1.57,2.2,2.66]},
{"p":"c","s":"Hom","k":6.5,"x":[6.5,6.51,6.53,6.62,6.75,6.93,7.14,7.28,7.29,7.27,7.26],"y":[-1,-0.5,-0.09,0.04,0.1,0.44,0.96,1.39,1.57,2.2,2.66]},
{"p":"c","s":"Hom","k":7,"x":[7,7.01,7.03,7.12,7.25,7.43,7.64,7.78,7.79,7.77,7.76],"y":[-1,-0.5,-0.09,0.04,0.1,0.44,0.96,1.39,1.57,2.2,2.66]},
{"p":"c","s":"Hom","k":7.5,"x":[7.5,7.51,7.53,7.62,7.75,7.93,8.14,8.28,8.29,8.27,8.26],"y":[-1,-0.5,-0.09,0.04,0.1,0.44,0.96,1.39,1.57,2.2,2.66]},
{"p":"c","s":"Hom","k":8,"x":[8,8.01,8.03,8.12,8.25,8.43,8.64,8.78,8.79,8.77,8.76],"y":[-1,-0.5,-0.09,0.04,0.1,0.44,0.96,1.39,1.57,2.2,2.66]},
{"p":"c","s":"Hom","k":8.5,"x":[8.5,8.51,8.53,8.62,8.75,8.93,9.14,9.28,9.29,9.27,9.26],"y":[-1,-0.5,-0.09,0.04,0.1,0.44,0.96,1.39,1.57,2.2,2.66]},
{"p":"c","s":"Hom","k":9,"x":[9,9.01,9.03,9.12,9.25,9.43,9.64,9.78,9.79,9.77,9.76],"y":[-1,-0.5,-0.09,0.04,0.1,0.44,0.96,1.39,1.57,2.2,2.66]},
{"p":"c","s":"Hom","k":9.5,"x":[9.5,9.51,9.53,9.62,9.75,9.93,10.14,10.28,10.29,10.27,10.26],"y":[-1,-0.5,-0.09,0.04,0.1,0.44,0.96,1.39,1.57,2.2,2.66]},
{"p":"c","s":"Hom","k":10,"x":[10,10.01,10.03,10.12,10.25,10.43,10.64,10.78,10.79,10.77,10.76],"y":[-1,-0.5,-0.09,0.04,0.1,0.44,0.96,1.39,1.57,2.2,2.66]},
{"p":"c","s":"Hom","k":10.5,"x":[10.5,10.51,10.53,10.62,10.75,10.93,11.14,11.28,11.29,11.27,11.26],"y":[-1,-0.5,-0.09,0.04,0.1,0.44,0.96,1.39,1.57,2.2,2.66]},
{"p":"c","s":"Hom","k":11,"x":[11,11.01,11.03,11.12,11.25,11.43,11.64,11.78,11.79,11.77,11.76],"y":[-1,-0.5,-0.09,0.04,0.1,0.44,0.96,1.39,1.57,2.2,2.66]},
{"p":"c","s":"Het","k":5.5,"x":[5.5,5.52,5.54,5.62,5.8,6,6.2,6.31,6.35,6.33],"y":[-1,-0.3,0.15,0.3,0.45,0.8,1.27,1.48,2.2,2.92]},
{"p":"c","s":"Het","k":6,"x":[6,6.02,6.04,6.12,6.3,6.5,6.7,6.81,6.85,6.83],"y":[-1,-0.3,0.15,0.3,0.45,0.8,1.27,1.48,2.2,2.92]},
{"p":"c","s":"Het","k":6.5,"x":[6.5,6.52,6.54,6.62,6.8,7,7.2,7.31,7.35,7.33],"y":[-1,-0.3,0.15,0.3,0.45,0.8,1.27,1.48,2.2,2.92]},
{"p":"c","s":"Het","k":7,"x":[7,7.02,7.04,7.12,7.3,7.5,7.7,7.81,7.85,7.83],"y":[-1,-0.3,0.15,0.3,0.45,0.8,1.27,1.48,2.2,2.92]},
{"p":"c","s":"Het","k":7.5,"x":[7.5,7.52,7.54,7.62,7.8,8,8.2,8.31,8.35,8.33],"y":[-1,-0.3,0.15,0.3,0.45,0.8,1.27,1.48,2.2,2.92]},
{"p":"c","s":"Het","k":8,"x":[8,8.02,8.04,8.12,8.3,8.5,8.7,8.81,8.85,8.83],"y":[-1,-0.3,0.15,0.3,0.45,0.8,1.27,1.48,2.2,2.92]},
{"p":"c","s":"Het","k":8.5,"x":[8.5,8.52,8.54,8.62,8.8,9,9.2,9.31,9.35,9.33],"y":[-1,-0.3,0.15,0.3,0.45,0.8,1.27,1.48,2.2,2.92]},
{"p":"c","s":"Het","k":9,"x":[9,9.02,9.04,9.12,9.3,9.5,9.7,9.81,9.85,9.83],"y":[-1,-0.3,0.15,0.3,0.45,0.8,1.27,1.48,2.2,2.92]},
{"p":"c","s":"Het","k":9.5,"x":[9.5,9.52,9.54,9.62,9.8,10,10.2,10.31,10.35,10.33],"y":[-1,-0.3,0.15,0.3,0.45,0.8,1.27,1.48,2.2,2.92]},
{"p":"c","s":"Het","k":10,"x":[10,10.02,10.04,10.12,10.3,10.5,10.7,10.81,10.85,10.83],"y":[-1,-0.3,0.15,0.3,0.45,0.8,1.27,1.48,2.2,2.92]},
{"p":"c","s":"Het","k":10.5,"x":[10.5,10.52,10.54,10.62,10.8,11,11.2,11.31,11.35,11.33],"y":[-1,-0.3,0.15,0.3,0.45,0.8,1.27,1.48,2.2,2.92]},
{"p":"c","s":"Het","k":11,"x":[11,11.02,11.04,11.12,11.3,11.5,11.7,11.81,11.85,11.83],"y":[-1,-0.3,0.15,0.3,0.45,0.8,1.27,1.48,2.2,2.92]},
{"p":"c","s":"Hom","k":14,"x":[14,14.01,14.03,14.12,14.25,14.43,14.64,14.78,14.79,14.77,14.76],"y":[-1,-0.5,-0.09,0.04,0.1,0.44,0.96,1.39,1.57,2.2,2.66]},
{"p":"c","s":"Hom","k":14.5,"x":[14.5,14.51,14.53,14.62,14.75,14.93,15.14,15.28,15.29,15.27,15.26],"y":[-1,-0.5,-0.09,0.04,0.1,0.44,0.96,1.39,1.57,2.2,2.66]},
{"p":"c","s":"Hom","k":15,"x":[15,15.01,15.03,15.12,15.25,15.43,15.64,15.78,15.79,15.77,15.76],"y":[-1,-0.5,-0.09,0.04,0.1,0.44,0.96,1.39,1.57,2.2,2.66]},
{"p":"c","s":"Hom","k":15.5,"x":[15.5,15.51,15.53,15.62,15.75,15.93,16.14,16.28,16.29,16.27,16.26],"y":[-1,-0.5,-0.09,0.04,0.1,0.44,0.96,1.39,1.57,2.2,2.66]},
{"p":"c","s":"Hom","k":16,"x":[16,16.01,16.03,16.12,16.25,16.43,16.64,16.78,16.79,16.77,16.76],"y":[-1,-0.5,-0.09,0.04,0.1,0.44,0.96,1.39,1.57,2.2,2.66]},
{"p":"c","s":"Hom","k":16.5,"x":[16.5,16.51,16.53,16.62,16.75,16.93,17.14,17.28,17.29,17.27,17.26],"y":[-1,-0.5,-0.09,0.04,0.1,0.44,0.96,1.39,1.57,2.2,2.66]},
{"p":"c","s":"Hom","k":17,"x":[17,17.01,17.03,17.12,17.25,17.43,17.64,17.78,17.79,17.77,17.76],"y":[-1,-0.5,-0.09,0.04,0.1,0.44,0.96,1.39,1.57,2.2,2.66]},
{"p":"c","s":"Hom","k":17.5,"x":[17.5,17.51,17.53,17.62,17.75,17.93,18.14,18.28,18.29,18.27,18.26],"y":[-1,-0.5,-0.09,0.04,0.1,0.44,0.96,1.39,1.57,2.2,2.66]},
{"p":"c","s":"Hom","k":18,"x":[18,18.01,18.03,18.12,18.25,18.43,18.64,18.78,18.79,18.77,18.76],"y":[-1,-0.5,-0.09,0.04,0.1,0.44,0.96,1.39,1.57,2.2,2.66]},
{"p":"c","s":"Hom","k":18.5,"x":[18.5,18.51,18.53,18.62,18.75,18.93,19.14,19.28,19.29,19.27,19.26],"y":[-1,-0.5,-0.09,0.04,0.1,0.44,0.96,1.39,1.57,2.2,2.66]},
{"p":"c","s":"Hom","k":19,"x":[19,19.01,19.03,19.12,19.25,19.43,19.64,19.78,19.79,19.77,19.76],"y":[-1,-0.5,-0.09,0.04,0.1,0.44,0.96,1.39,1.57,2.2,2.66]},
{"p":"c","s":"Hom","k":19.5,"x":[19.5,19.51,19.53,19.62,19.75,19.93,20.14,20.28,20.29,20.27,20.26],"y":[-1,-0.5,-0.09,0.04,0.1,0.44,0.96,1.39,1.57,2.2,2.66]},
{"p":"c","s":"Hom","k":20,"x":[20,20.01,20.03,20.12,20.25,20.43,20.64,20.78,20.79,20.77,20.76],"y":[-1,-0.5,-0.09,0.04,0.1,0.44,0.96,1.39,1.57,2.2,2.66]},
{"p":"c","s":"Het","k":14,"x":[14,14.02,14.04,14.12,14.3,14.5,14.7,14.81,14.85,14.83],"y":[-1,-0.3,0.15,0.3,0.45,0.8,1.27,1.48,2.2,2.92]},
{"p":"c","s":"Het","k":14.5,"x":[14.5,14.52,14.54,14.62,14.8,15,15.2,15.31,15.35,15.33],"y":[-1,-0.3,0.15,0.3,0.45,0.8,1.27,1.48,2.2,2.92]},
{"p":"c","s":"Het","k":15,"x":[15,15.02,15.04,15.12,15.3,15.5,15.7,15.81,15.85,15.83],"y":[-1,-0.3,0.15,0.3,0.45,0.8,1.27,1.48,2.2,2.92]},
{"p":"c","s":"Het","k":15.5,"x":[15.5,15.52,15.54,15.62,15.8,16,16.2,16.31,16.35,16.33],"y":[-1,-0.3,0.15,0.3,0.45,0.8,1.27,1.48,2.2,2.92]},
{"p":"c","s":"Het","k":16,"x":[16,16.02,16.04,16.12,16.3,16.5,16.7,16.81,16.85,16.83],"y":[-1,-0.3,0.15,0.3,0.45,0.8,1.27,1.48,2.2,2.92]},
{"p":"c","s":"Het","k":16.5,"x":[16.5,16.52,16.54,16.62,16.8,17,17.2,17.31,17.35,17.33],"y":[-1,-0.3,0.15,0.3,0.45,0.8,1.27,1.48,2.2,2.92]},
{"p":"c","s":"Het","k":17,"x":[17,17.02,17.04,17.12,17.3,17.5,17.7,17.81,17.85,17.83],"y":[-1,-0.3,0.15,0.3,0.45,0.8,1.27,1.48,2.2,2.92]},
{"p":"c","s":"Het","k":17.5,"x":[17.5,17.52,17.54,17.62,17.8,18,18.2,18.31,18.35,18.33],"y":[-1,-0.3,0.15,0.3,0.45,0.8,1.27,1.48,2.2,2.92]},
{"p":"c","s":"Het","k":18,"x":[18,18.02,18.04,18.12,18.3,18.5,18.7,18.81,18.85,18.83],"y":[-1,-0.3,0.15,0.3,0.45,0.8,1.27,1.48,2.2,2.92]},
{"p":"c","s":"Het","k":18.5,"x":[18.5,18.52,18.54,18.62,18.8,19,19.2,19.31,19.35,19.33],"y":[-1,-0.3,0.15,0.3,0.45,0.8,1.27,1.48,2.2,2.92]},
{"p":"c","s":"Het","k":19,"x":[19,19.02,19.04,19.12,19.3,19.5,19.7,19.81,19.85,19.83],"y":[-1,-0.3,0.15,0.3,0.45,0.8,1.27,1.48,2.2,2.92]},
{"p":"c","s":"Het","k":19.5,"x":[19.5,19.52,19.54,19.62,19.8,20,20.2,20.31,20.35,20.33],"y":[-1,-0.3,0.15,0.3,0.45,0.8,1.27,1.48,2.2,2.92]},
{"p":"c","s":"Het","k":20,"x":[20,20.02,20.04,20.12,20.3,20.5,20.7,20.81,20.85,20.83],"y":[-1,-0.3,0.15,0.3,0.45,0.8,1.27,1.48,2.2,2.92]}
]},
"vconcat":[
{
 "width":897,"height":78,
 "title":{"text":"(a)","anchor":"start","frame":"group","orient":"top","offset":-32,"dx":-66,"baseline":"middle"},
 "data":{"name":"d"},
 "transform":[{"filter":"datum.p=='a'"},{"flatten":["x","y"]}],
 "resolve":{"axis":{"x":"independent","y":"independent"}},
 "layer":[
  {"transform":[{"filter":"datum.s=='Het'"}],"mark":{"type":"line","strokeWidth":1.5},
   "encoding":{
    "x":{"field":"x","type":"quantitative","scale":{"domain":[-2,21.45],"nice":false,"zero":false},
      "axis":{"title":null,"values":[-2,-1.8,-1.6,-1.4,-1.2,-1,-0.8,-0.6,-0.4,-0.2,0,0.2,0.4,0.6,0.8,1,1.2,1.4,1.6,1.8,2,2.2,2.4,2.6,2.8,3,3.2,3.4,3.6,3.8,4,4.2,4.4,4.6,4.8,5,5.2,5.4,5.6,5.8,6,6.2,6.4,6.6,6.8,7,7.2,7.4,7.6,7.8,8,8.2,8.4,8.6,8.8,9,9.2,9.4,9.6,9.8,10,10.2,10.4,10.6,10.8,11,11.2,11.4,11.6,11.8,12,12.2,12.4,12.6,12.8,13,13.2,13.4,13.6,13.8,14,14.2,14.4,14.6,14.8,15,15.2,15.4,15.6,15.8,16,16.2,16.4,16.6,16.8,17,17.2,17.4,17.6,17.8,18,18.2,18.4,18.6,18.8,19,19.2,19.4,19.6,19.8,20,20.2,20.4,20.6,20.8,21,21.2,21.4],
       "labelExpr":"abs(datum.value-round(datum.value))<0.01 ? format(datum.value,'d') : ''",
       "tickSize":{"condition":{"test":"abs(datum.value-round(datum.value))<0.01","value":-7},"value":-4},"labelPadding":10}},
    "y":{"field":"y","type":"quantitative","scale":{"domain":[0,2],"nice":false,"zero":false},
      "axis":{"title":"y/h","titleAngle":0,"titleX":-52,"titleY":39,"titleAlign":"center","titleBaseline":"middle",
       "values":[0,0.2,0.4,0.6,0.8,1,1.2,1.4,1.6,1.8,2],
       "labelExpr":"abs(datum.value-round(datum.value))<0.01 ? format(datum.value,'d') : ''",
       "tickSize":{"condition":{"test":"abs(datum.value-round(datum.value))<0.01","value":-7},"value":-4},"labelPadding":4}},
    "color":{"field":"s","type":"nominal","scale":{"domain":["Hom","Het"],"range":["#000000","#ff0000"]},"legend":{"title":null,"labelExpr":"datum.value=='Hom' ? 'Homogeneous' : 'Heterogeneous'"}},
    "detail":{"field":"k"},
    "order":{"value":null}}},
  {"transform":[{"filter":"datum.s=='Hom'"}],"mark":{"type":"line","strokeWidth":1.5},
   "encoding":{
    "x":{"field":"x","type":"quantitative","axis":null},
    "y":{"field":"y","type":"quantitative","axis":null},
    "color":{"field":"s","type":"nominal","legend":{"title":null,"labelExpr":"datum.value=='Hom' ? 'Homogeneous' : 'Heterogeneous'"}},
    "detail":{"field":"k"},
    "order":{"value":null}}},
  {"transform":[{"filter":"datum.k==-2 && datum.s=='Hom'"}],"mark":{"type":"point","opacity":0},
   "encoding":{
    "x":{"field":"x","type":"quantitative","axis":{"orient":"top","title":null,"labels":false,"values":[-2,-1.8,-1.6,-1.4,-1.2,-1,-0.8,-0.6,-0.4,-0.2,0,0.2,0.4,0.6,0.8,1,1.2,1.4,1.6,1.8,2,2.2,2.4,2.6,2.8,3,3.2,3.4,3.6,3.8,4,4.2,4.4,4.6,4.8,5,5.2,5.4,5.6,5.8,6,6.2,6.4,6.6,6.8,7,7.2,7.4,7.6,7.8,8,8.2,8.4,8.6,8.8,9,9.2,9.4,9.6,9.8,10,10.2,10.4,10.6,10.8,11,11.2,11.4,11.6,11.8,12,12.2,12.4,12.6,12.8,13,13.2,13.4,13.6,13.8,14,14.2,14.4,14.6,14.8,15,15.2,15.4,15.6,15.8,16,16.2,16.4,16.6,16.8,17,17.2,17.4,17.6,17.8,18,18.2,18.4,18.6,18.8,19,19.2,19.4,19.6,19.8,20,20.2,20.4,20.6,20.8,21,21.2,21.4],"tickSize":{"condition":{"test":"abs(datum.value-round(datum.value))<0.01","value":-7},"value":-4}}},
    "y":{"field":"y","type":"quantitative","axis":{"orient":"right","title":null,"labels":false,"values":[0,0.2,0.4,0.6,0.8,1,1.2,1.4,1.6,1.8,2],"tickSize":{"condition":{"test":"abs(datum.value-round(datum.value))<0.01","value":-7},"value":-4}}}}}
 ]
},
{
 "width":897,"height":113,
 "title":{"text":"(b)","anchor":"start","frame":"group","orient":"top","offset":-32,"dx":-66,"baseline":"middle"},
 "data":{"name":"d"},
 "transform":[{"filter":"datum.p=='b'"},{"flatten":["x","y"]}],
 "resolve":{"axis":{"x":"independent","y":"independent"}},
 "layer":[
  {"transform":[{"filter":"datum.s=='Het'"}],"mark":{"type":"line","strokeWidth":1.5},
   "encoding":{
    "x":{"field":"x","type":"quantitative","scale":{"domain":[-2,21.45],"nice":false,"zero":false},
      "axis":{"title":null,"values":[-2,-1.8,-1.6,-1.4,-1.2,-1,-0.8,-0.6,-0.4,-0.2,0,0.2,0.4,0.6,0.8,1,1.2,1.4,1.6,1.8,2,2.2,2.4,2.6,2.8,3,3.2,3.4,3.6,3.8,4,4.2,4.4,4.6,4.8,5,5.2,5.4,5.6,5.8,6,6.2,6.4,6.6,6.8,7,7.2,7.4,7.6,7.8,8,8.2,8.4,8.6,8.8,9,9.2,9.4,9.6,9.8,10,10.2,10.4,10.6,10.8,11,11.2,11.4,11.6,11.8,12,12.2,12.4,12.6,12.8,13,13.2,13.4,13.6,13.8,14,14.2,14.4,14.6,14.8,15,15.2,15.4,15.6,15.8,16,16.2,16.4,16.6,16.8,17,17.2,17.4,17.6,17.8,18,18.2,18.4,18.6,18.8,19,19.2,19.4,19.6,19.8,20,20.2,20.4,20.6,20.8,21,21.2,21.4],
       "labelExpr":"abs(datum.value-round(datum.value))<0.01 ? format(datum.value,'d') : ''",
       "tickSize":{"condition":{"test":"abs(datum.value-round(datum.value))<0.01","value":-7},"value":-4},"labelPadding":10}},
    "y":{"field":"y","type":"quantitative","scale":{"domain":[0,3],"nice":false,"zero":false},
      "axis":{"title":"y/h","titleAngle":0,"titleX":-52,"titleY":56,"titleAlign":"center","titleBaseline":"middle",
       "values":[0,0.2,0.4,0.6,0.8,1,1.2,1.4,1.6,1.8,2,2.2,2.4,2.6,2.8,3],
       "labelExpr":"abs(datum.value-round(datum.value))<0.01 ? format(datum.value,'d') : ''",
       "tickSize":{"condition":{"test":"abs(datum.value-round(datum.value))<0.01","value":-7},"value":-4},"labelPadding":4}},
    "color":{"field":"s","type":"nominal","scale":{"domain":["Hom","Het"],"range":["#000000","#ff0000"]},"legend":{"title":null,"labelExpr":"datum.value=='Hom' ? 'Homogeneous' : 'Heterogeneous'"}},
    "detail":{"field":"k"},
    "order":{"value":null}}},
  {"transform":[{"filter":"datum.s=='Hom'"}],"mark":{"type":"line","strokeWidth":1.5},
   "encoding":{
    "x":{"field":"x","type":"quantitative","axis":null},
    "y":{"field":"y","type":"quantitative","axis":null},
    "color":{"field":"s","type":"nominal","legend":{"title":null,"labelExpr":"datum.value=='Hom' ? 'Homogeneous' : 'Heterogeneous'"}},
    "detail":{"field":"k"},
    "order":{"value":null}}},
  {"transform":[{"filter":"datum.k==-2 && datum.s=='Hom'"}],"mark":{"type":"point","opacity":0},
   "encoding":{
    "x":{"field":"x","type":"quantitative","axis":{"orient":"top","title":null,"labels":false,"values":[-2,-1.8,-1.6,-1.4,-1.2,-1,-0.8,-0.6,-0.4,-0.2,0,0.2,0.4,0.6,0.8,1,1.2,1.4,1.6,1.8,2,2.2,2.4,2.6,2.8,3,3.2,3.4,3.6,3.8,4,4.2,4.4,4.6,4.8,5,5.2,5.4,5.6,5.8,6,6.2,6.4,6.6,6.8,7,7.2,7.4,7.6,7.8,8,8.2,8.4,8.6,8.8,9,9.2,9.4,9.6,9.8,10,10.2,10.4,10.6,10.8,11,11.2,11.4,11.6,11.8,12,12.2,12.4,12.6,12.8,13,13.2,13.4,13.6,13.8,14,14.2,14.4,14.6,14.8,15,15.2,15.4,15.6,15.8,16,16.2,16.4,16.6,16.8,17,17.2,17.4,17.6,17.8,18,18.2,18.4,18.6,18.8,19,19.2,19.4,19.6,19.8,20,20.2,20.4,20.6,20.8,21,21.2,21.4],"tickSize":{"condition":{"test":"abs(datum.value-round(datum.value))<0.01","value":-7},"value":-4}}},
    "y":{"field":"y","type":"quantitative","axis":{"orient":"right","title":null,"labels":false,"values":[0,0.2,0.4,0.6,0.8,1,1.2,1.4,1.6,1.8,2,2.2,2.4,2.6,2.8,3],"tickSize":{"condition":{"test":"abs(datum.value-round(datum.value))<0.01","value":-7},"value":-4}}}}}
 ]
},
{
 "width":897,"height":152,
 "title":{"text":"(c)","anchor":"start","frame":"group","orient":"top","offset":-32,"dx":-66,"baseline":"middle"},
 "data":{"name":"d"},
 "transform":[{"filter":"datum.p=='c'"},{"flatten":["x","y"]}],
 "resolve":{"axis":{"x":"independent","y":"independent"}},
 "layer":[
  {"transform":[{"filter":"datum.s=='Het'"}],"mark":{"type":"line","strokeWidth":1.5},
   "encoding":{
    "x":{"field":"x","type":"quantitative","scale":{"domain":[-2,21.45],"nice":false,"zero":false},
      "axis":{"title":"x/h","titleY":46,"titleBaseline":"middle","values":[-2,-1.8,-1.6,-1.4,-1.2,-1,-0.8,-0.6,-0.4,-0.2,0,0.2,0.4,0.6,0.8,1,1.2,1.4,1.6,1.8,2,2.2,2.4,2.6,2.8,3,3.2,3.4,3.6,3.8,4,4.2,4.4,4.6,4.8,5,5.2,5.4,5.6,5.8,6,6.2,6.4,6.6,6.8,7,7.2,7.4,7.6,7.8,8,8.2,8.4,8.6,8.8,9,9.2,9.4,9.6,9.8,10,10.2,10.4,10.6,10.8,11,11.2,11.4,11.6,11.8,12,12.2,12.4,12.6,12.8,13,13.2,13.4,13.6,13.8,14,14.2,14.4,14.6,14.8,15,15.2,15.4,15.6,15.8,16,16.2,16.4,16.6,16.8,17,17.2,17.4,17.6,17.8,18,18.2,18.4,18.6,18.8,19,19.2,19.4,19.6,19.8,20,20.2,20.4,20.6,20.8,21,21.2,21.4],
       "labelExpr":"abs(datum.value-round(datum.value))<0.01 ? format(datum.value,'d') : ''",
       "tickSize":{"condition":{"test":"abs(datum.value-round(datum.value))<0.01","value":-7},"value":-4},"labelPadding":10}},
    "y":{"field":"y","type":"quantitative","scale":{"domain":[-1,3],"nice":false,"zero":false},
      "axis":{"title":"y/h","titleAngle":0,"titleX":-52,"titleY":76,"titleAlign":"center","titleBaseline":"middle",
       "values":[-1,-0.8,-0.6,-0.4,-0.2,0,0.2,0.4,0.6,0.8,1,1.2,1.4,1.6,1.8,2,2.2,2.4,2.6,2.8,3],
       "labelExpr":"abs(datum.value-round(datum.value))<0.01 && datum.value>=0 ? (datum.value==3 ? '4' : format(datum.value,'d')) : ''",
       "tickSize":{"condition":{"test":"abs(datum.value-round(datum.value))<0.01","value":-7},"value":-4},"labelPadding":4}},
    "color":{"field":"s","type":"nominal","scale":{"domain":["Hom","Het"],"range":["#000000","#ff0000"]},"legend":{"title":null,"labelExpr":"datum.value=='Hom' ? 'Homogeneous' : 'Heterogeneous'"}},
    "detail":{"field":"k"},
    "order":{"value":null}}},
  {"transform":[{"filter":"datum.s=='Hom'"}],"mark":{"type":"line","strokeWidth":1.5},
   "encoding":{
    "x":{"field":"x","type":"quantitative","axis":null},
    "y":{"field":"y","type":"quantitative","axis":null},
    "color":{"field":"s","type":"nominal","legend":{"title":null,"labelExpr":"datum.value=='Hom' ? 'Homogeneous' : 'Heterogeneous'"}},
    "detail":{"field":"k"},
    "order":{"value":null}}},
  {"transform":[{"filter":"datum.k==-2 && datum.s=='Hom'"}],"mark":{"type":"point","opacity":0},
   "encoding":{
    "x":{"field":"x","type":"quantitative","axis":{"orient":"top","title":null,"labels":false,"values":[-2,-1.8,-1.6,-1.4,-1.2,-1,-0.8,-0.6,-0.4,-0.2,0,0.2,0.4,0.6,0.8,1,1.2,1.4,1.6,1.8,2,2.2,2.4,2.6,2.8,3,3.2,3.4,3.6,3.8,4,4.2,4.4,4.6,4.8,5,5.2,5.4,5.6,5.8,6,6.2,6.4,6.6,6.8,7,7.2,7.4,7.6,7.8,8,8.2,8.4,8.6,8.8,9,9.2,9.4,9.6,9.8,10,10.2,10.4,10.6,10.8,11,11.2,11.4,11.6,11.8,12,12.2,12.4,12.6,12.8,13,13.2,13.4,13.6,13.8,14,14.2,14.4,14.6,14.8,15,15.2,15.4,15.6,15.8,16,16.2,16.4,16.6,16.8,17,17.2,17.4,17.6,17.8,18,18.2,18.4,18.6,18.8,19,19.2,19.4,19.6,19.8,20,20.2,20.4,20.6,20.8,21,21.2,21.4],"tickSize":{"condition":{"test":"abs(datum.value-round(datum.value))<0.01","value":-7},"value":-4}}},
    "y":{"field":"y","type":"quantitative","axis":{"orient":"right","title":null,"labels":false,"values":[-1,-0.8,-0.6,-0.4,-0.2,0,0.2,0.4,0.6,0.8,1,1.2,1.4,1.6,1.8,2,2.2,2.4,2.6,2.8,3],"tickSize":{"condition":{"test":"abs(datum.value-round(datum.value))<0.01","value":-7},"value":-4}}}}}
 ]
}
]
}
